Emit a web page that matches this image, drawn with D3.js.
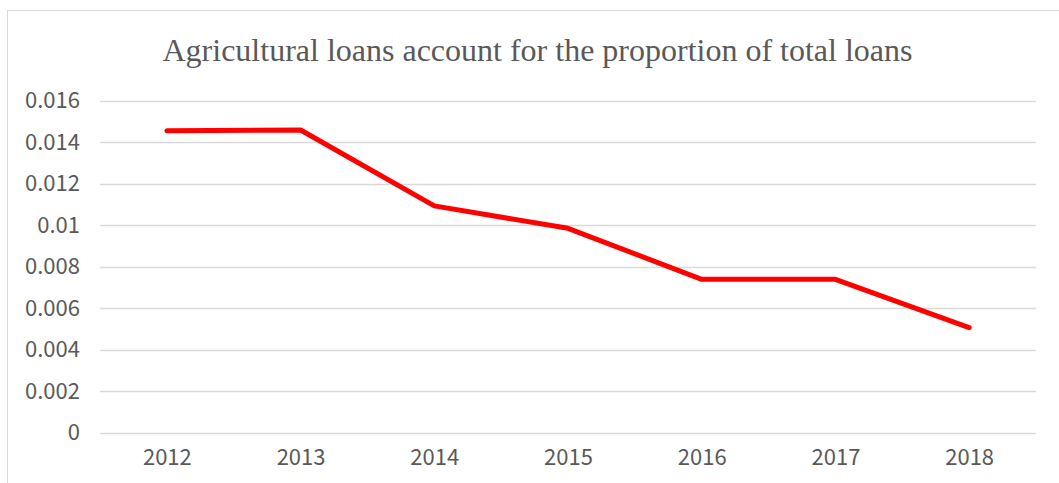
<!DOCTYPE html>
<html>
<head>
<meta charset="utf-8">
<script src="https://cdn.jsdelivr.net/npm/d3@7/dist/d3.min.js"></script>
<style>
  html, body { margin: 0; padding: 0; background: #fff; }
  svg { display: block; }
</style>
</head>
<body>
<svg id="chart" width="1059" height="483"></svg>
<script>
// Share of agricultural loans in total loans, by year
const years = ["2012", "2013", "2014", "2015", "2016", "2017", "2018"];
const shares = [0.01455, 0.01459, 0.01093, 0.00985, 0.00739, 0.00739, 0.00506];
const yTicks = [0, 0.002, 0.004, 0.006, 0.008, 0.01, 0.012, 0.014, 0.016];
const title = "Agricultural loans account for the proportion of total loans";

const svg = d3.select("#chart");
const W = 1059, H = 483;
const plot = { left: 100, right: 1036, top: 100.7, bottom: 432.7 };

// chart-area frame
svg.append("rect")
  .attr("x", 7.5).attr("y", 10.5)
  .attr("width", W + 20).attr("height", H + 20)
  .attr("fill", "#fff")
  .attr("stroke", "#d9d9d9").attr("stroke-width", 1);

const x = d3.scalePoint().domain(years).range([plot.left, plot.right]).padding(0.5);
const y = d3.scaleLinear().domain([0, 0.016]).range([plot.bottom, plot.top]);

// title
svg.append("text")
  .attr("x", (163 + 912) / 2).attr("y", 61)
  .attr("text-anchor", "middle")
  .attr("font-family", "'Liberation Serif', 'Times New Roman', serif")
  .attr("font-size", 32)
  .attr("fill", "#595959")
  .text(title);

// horizontal gridlines
svg.append("g")
  .selectAll("line")
  .data(yTicks)
  .join("line")
  .attr("x1", plot.left).attr("x2", plot.right)
  .attr("y1", d => Math.round(y(d)) + 0.5).attr("y2", d => Math.round(y(d)) + 0.5)
  .attr("stroke", "#d9d9d9").attr("stroke-width", 1.3);

const labelFont = "'Noto Sans CJK SC', 'Noto Sans', sans-serif";

// y axis labels
const yAxis = d3.axisLeft(y).tickValues(yTicks).tickFormat(d => String(+d.toFixed(3))).tickSize(0).tickPadding(20);
const gy = svg.append("g").attr("transform", `translate(${plot.left},0)`).call(yAxis);
gy.select(".domain").remove();
gy.selectAll("text")
  .attr("font-family", labelFont).attr("font-size", 22).attr("fill", "#595959");

// x axis labels
const xAxis = d3.axisBottom(x).tickSize(0).tickPadding(17);
const gx = svg.append("g").attr("transform", `translate(0,${plot.bottom})`).call(xAxis);
gx.select(".domain").remove();
gx.selectAll("text")
  .attr("font-family", labelFont).attr("font-size", 22).attr("fill", "#595959");

// series line
const line = d3.line().x((d, i) => x(years[i])).y(d => y(d));
svg.append("path")
  .datum(shares)
  .attr("d", line)
  .attr("fill", "none")
  .attr("stroke", "#ff0000")
  .attr("stroke-width", 5)
  .attr("stroke-linecap", "round")
  .attr("stroke-linejoin", "round");
</script>
</body>
</html>
